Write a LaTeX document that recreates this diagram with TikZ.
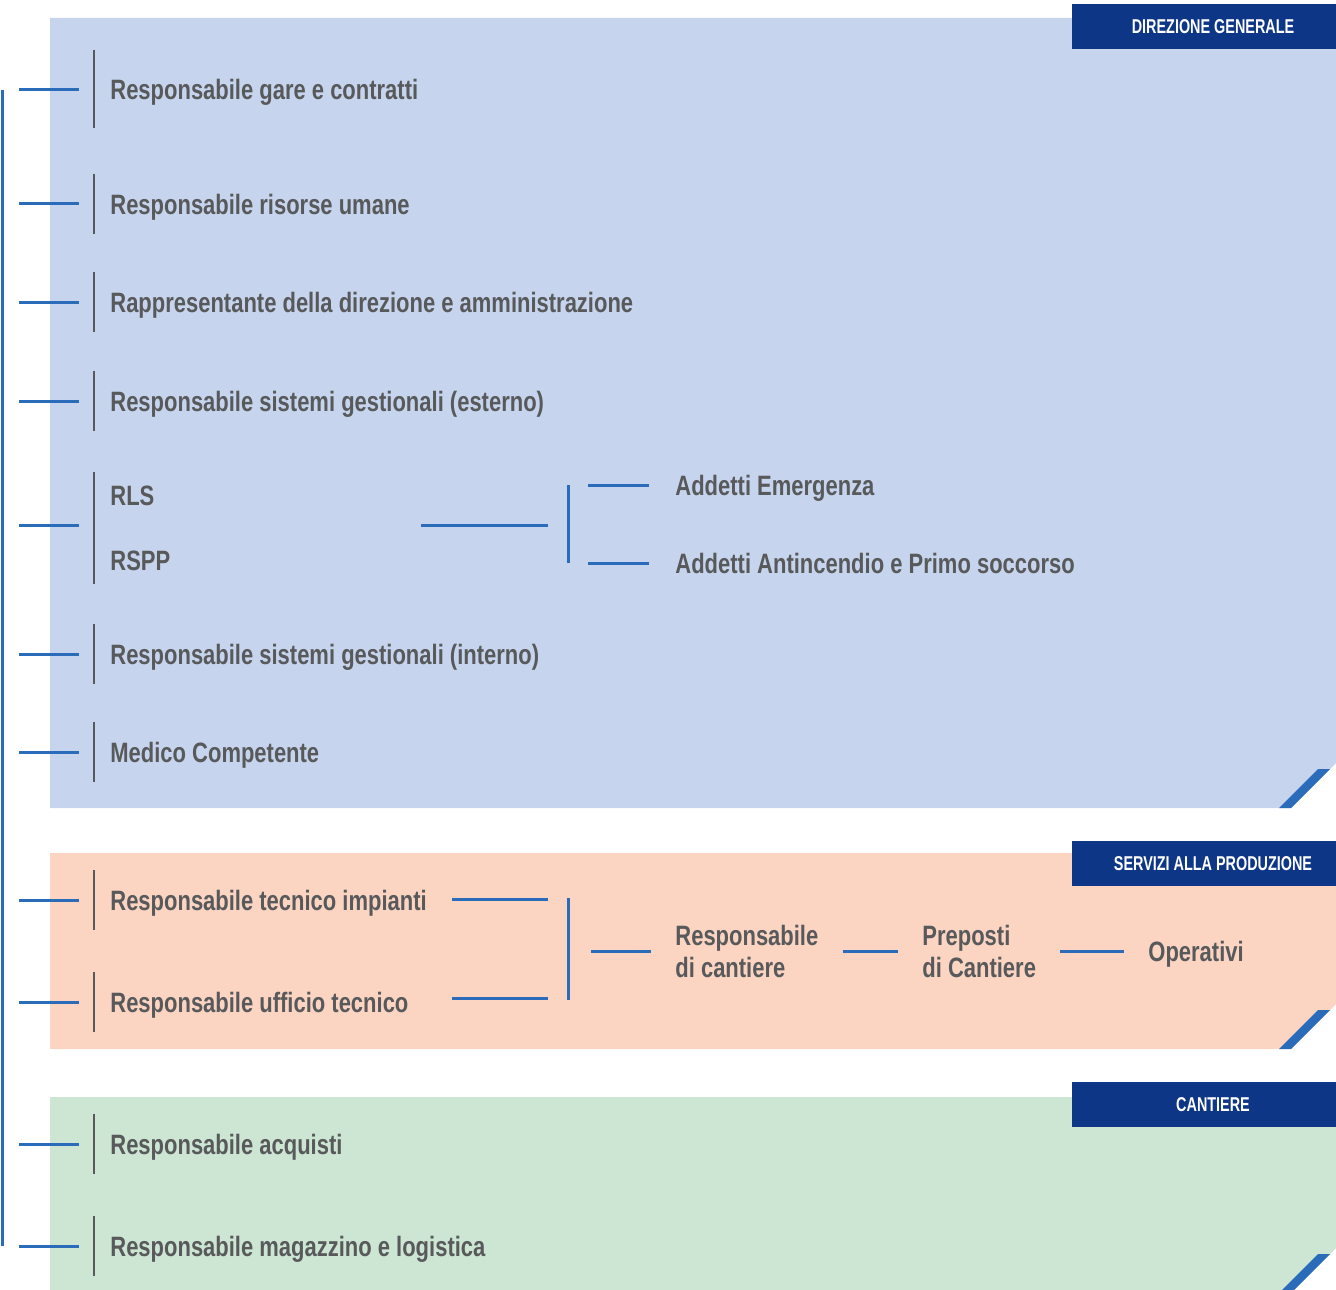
\documentclass[tikz,border=0pt]{standalone}
\usepackage{fontspec}
\setmainfont{Liberation Sans}[FakeStretch=0.785]
\newfontfamily\tagfamily{Liberation Sans}[FakeStretch=0.72]
\usepackage{tikz}
\usetikzlibrary{positioning}
\usetikzlibrary{calc}

\definecolor{panelblue}{RGB}{198,213,237}
\definecolor{panelorange}{RGB}{251,212,194}
\definecolor{panelgreen}{RGB}{205,230,212}
\definecolor{linkblue}{RGB}{42,108,185}
\definecolor{tagblue}{RGB}{14,54,134}
\definecolor{txtgray}{RGB}{88,89,91}

\newcommand{\orgfont}{\bfseries\fontsize{14}{16}\selectfont}
\newcommand{\tagfont}{\tagfamily\bfseries\fontsize{10}{11}\selectfont}

\begin{document}
\begin{tikzpicture}[x=0.5pt, y=-0.5pt,
    rowtext/.style={anchor=west, inner sep=0pt, text=txtgray, font=\orgfont, text height=10pt, text depth=0pt},
    grouptext/.style={anchor=west, inner xsep=12pt, inner ysep=0pt, text=txtgray, font=\orgfont, align=left},
    tag/.style={fill=tagblue, text=white, font=\tagfont, minimum width=141pt, minimum height=22.5pt, inner sep=0pt},
    branch/.style={draw=linkblue, line width=1.5pt},
    divider/.style={draw=txtgray, line width=1pt}]
    \useasboundingbox (0,0) rectangle (1336,1289);

    % panels
    \fill[panelblue] (50,18) -- (1336,18) -- (1336,763) -- (1291,808) -- (50,808) -- cycle;
    \fill[linkblue] (1279,808) -- (1291,808) -- (1330,769) -- (1318,769) -- cycle;
    \fill[panelorange] (50,853) -- (1336,853) -- (1336,1004) -- (1291,1049) -- (50,1049) -- cycle;
    \fill[linkblue] (1279,1049) -- (1291,1049) -- (1330,1010) -- (1318,1010) -- cycle;
    \fill[panelgreen] (50,1097) -- (1336,1097) -- (1336,1248) -- (1277,1307) -- (50,1307) -- cycle;
    \fill[linkblue] (1272,1300) -- (1284,1300) -- (1330,1254) -- (1318,1254) -- cycle;

    \node[tag] (tag-dg) at (1213,26.5) {DIREZIONE GENERALE};
    \node[tag] (tag-sp) at (1213,863.5) {SERVIZI ALLA PRODUZIONE};
    \node[tag] (tag-ca) at (1213,1104.5) {CANTIERE};

    % roles
    \node[rowtext] (gare) at (110,90) {Responsabile gare e contratti};
    \node[rowtext] (umane) at (110,204) {Responsabile risorse umane};
    \node[rowtext] (direzione) at (110,302) {Rappresentante della direzione e amministrazione};
    \node[rowtext] (esterno) at (110,401) {Responsabile sistemi gestionali (esterno)};
    \node[rowtext] (rls) at (110,495) {RLS};
    \node[rowtext] (rspp) at (110,560) {RSPP};
    \node[rowtext] (interno) at (110,654) {Responsabile sistemi gestionali (interno)};
    \node[rowtext] (medico) at (110,752) {Medico Competente};
    \node[rowtext] (impianti) at (110,900) {Responsabile tecnico impianti};
    \node[rowtext] (ufficio) at (110,1002) {Responsabile ufficio tecnico};
    \node[rowtext] (acquisti) at (110,1144) {Responsabile acquisti};
    \node[rowtext] (magazzino) at (110,1246) {Responsabile magazzino e logistica};

    \coordinate (sicurezza) at (110,525);

    \draw[branch] ([xshift=-54pt]gare.west) -- ([xshift=-54pt]magazzino.west);
    \foreach \n in {gare,umane,direzione,esterno,sicurezza,interno,medico,impianti,ufficio,acquisti,magazzino}
        \draw[branch] (\n.west) ++(-91,0) -- ++(60,0);
    \foreach \n in {umane,direzione,esterno,interno,medico,impianti,ufficio,acquisti,magazzino}
        \draw[divider] (\n.west) ++(-16,-30) -- ++(0,60);
    \draw[divider] (gare.west) ++(-16,-40) -- ++(0,78);
    \draw[divider] (sicurezza) ++(-16,-53) -- ++(0,112);

    % safety branch
    \node[rowtext] (emergenza) at (675,485) {Addetti Emergenza};
    \node[rowtext] (antincendio) at (675,563) {Addetti Antincendio e Primo soccorso};
    \coordinate (sic-end) at (548,525);
    \draw[branch] (sic-end) -- ++(-127,0);
    \draw[branch] ([xshift=-53.5pt]emergenza.west) -- ([xshift=-53.5pt]antincendio.west);
    \draw[branch] (emergenza.west) ++(-26,0) -- ++(-61,0);
    \draw[branch] (antincendio.west) ++(-26,0) -- ++(-61,0);

    % production branch
    \node[grouptext] (capo) at (651,951) {Responsabile\\di cantiere};
    \node[grouptext] (preposti) at (898,951) {Preposti\\di Cantiere};
    \node[grouptext, text height=10pt, text depth=0pt] (operativi) at (1124,951) {Operativi};
    \draw[branch] (capo.west) ++(-83,-53) -- ++(0,102);
    \draw[branch] (capo.west) ++(-103,-52) -- ++(-96,0);
    \draw[branch] (capo.west) ++(-103,47) -- ++(-96,0);
    \draw[branch] (capo.west) ++(-60,0) -- (capo.west);
    \draw[branch] (capo) -- (preposti);
    \draw[branch] (preposti) -- (operativi);
\end{tikzpicture}
\end{document}
